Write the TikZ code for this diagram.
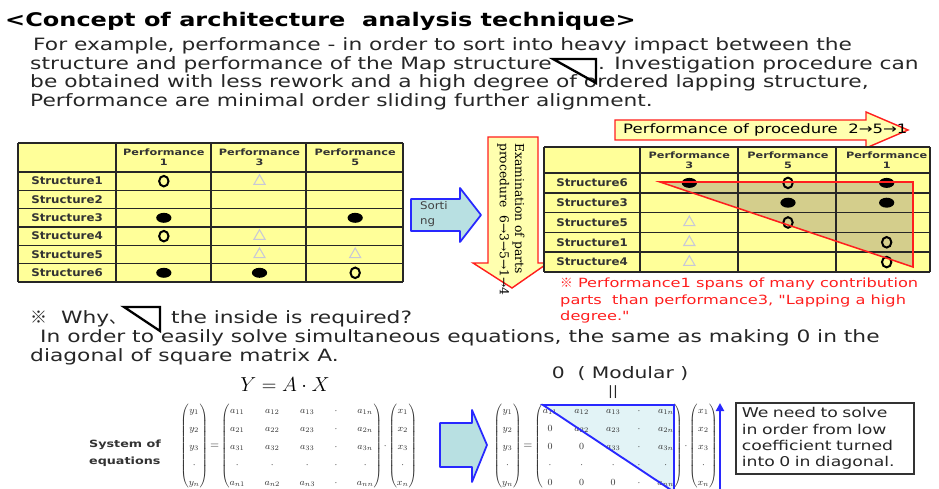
\documentclass[tikz,border=0pt]{standalone}
\usepackage{amsmath}
\usepackage{fontspec}
\setmainfont{DejaVu Sans}[FakeStretch=1.12]
\newfontfamily\widefont{DejaVu Sans}[FakeStretch=1.28]
\newfontfamily\serifjp{DejaVu Serif}
\newfontfamily\cjk{Noto Sans CJK JP}
\usetikzlibrary{shapes,arrows.meta,positioning}

\definecolor{tabyellow}{RGB}{255,255,153}
\definecolor{shadeolive}{RGB}{212,206,140}
\definecolor{sortcyan}{RGB}{184,224,226}
\definecolor{arrblue}{RGB}{40,40,255}
\definecolor{notered}{RGB}{255,30,30}
\definecolor{palecyan}{RGB}{226,243,246}
\definecolor{trigrey}{RGB}{200,200,215}
\definecolor{procyellow}{RGB}{255,255,175}

\begin{document}
\begin{tikzpicture}[x=0.03cm, y=-0.03cm,
    txt/.style={anchor=base west, inner sep=0pt, font=\widefont\fontsize{14.5}{17}\selectfont, text=black!85},
    grid/.style={draw=black!85, line width=1.3pt},
    rowlab/.style={font=\fontsize{9}{10}\selectfont\bfseries, text=black!80, inner sep=0pt},
    collab/.style={font=\widefont\fontsize{7.5}{8.5}\selectfont\bfseries, align=center, text=black!80, inner sep=0pt},
    osym/.style={ellipse, draw=black, line width=1.7pt, minimum width=8pt, minimum height=9pt, inner sep=0pt},
    fsym/.style={ellipse, fill=black, minimum width=13pt, minimum height=8.5pt, inner sep=0pt},
    tsym/.style={regular polygon, regular polygon sides=3, draw=trigrey, line width=0.9pt, minimum size=11pt, inner sep=0pt},
    blockarrow/.style={draw=arrblue, fill=sortcyan, line width=1.5pt, line join=round},
    redarrow/.style={draw=notered, fill=procyellow, line width=1.2pt},
    mat/.style={inner sep=0pt, text=black!80, font=\fontsize{8}{9}\selectfont\renewcommand{\arraystretch}{1.71}},
    icon/.style={draw=black, line width=2pt}
]
\useasboundingbox (0,0) rectangle (939,489);

% Title and intro
\node[txt, font=\widefont\fontsize{16}{18}\selectfont\bfseries, text=black] (title) at (5,27) {<Concept of architecture\ \ analysis technique>};
\node[txt] (intro1) at (33,51) {For example, performance - in order to sort into heavy impact between the};
\node[txt] (intro2a) at (30,69.5) {structure and performance of the Map structure};
\node[txt] (intro2b) at (598,69.5) {. Investigation procedure can};
\node[txt] (intro3) at (30,88) {be obtained with less rework and a high degree of ordered lapping structure,};
\node[txt] (intro4) at (30,106.5) {Performance are minimal order sliding further alignment.};
\draw[icon] (553,59) -- (596,59) -- (596,83) -- cycle;

% Left table
\fill[tabyellow] (18,143) rectangle (403,282);
\foreach \x in {18,116,211,306,403} \draw[grid] (\x,143) -- (\x,282);
\foreach \y in {143,172,190.3,208.7,227,245.3,263.7,282} \draw[grid] (18,\y) -- (403,\y);
\foreach \n [count=\k] in {1,3,5}
    \node[collab] (lhead\k) at ({116+95.67*(\k-0.5)},157.5) {Performance\\\n};
\foreach \s [count=\k] in {1,...,6}
    \node[rowlab] (lrow\k) at (67,{172+18.33*(\k-0.5)}) {Structure\s};
\foreach \cl/\rw [count=\k] in {1/1,1/4,3/6}
    \node[osym] (lo\k) at ({116+95.67*(\cl-0.5)},{172+18.33*(\rw-0.5)}) {};
\foreach \cl/\rw [count=\k] in {1/3,3/3,1/6,2/6}
    \node[fsym] (lf\k) at ({116+95.67*(\cl-0.5)},{172+18.33*(\rw-0.5)}) {};
\foreach \cl/\rw [count=\k] in {2/1,2/4,2/5,3/5}
    \node[tsym] (lt\k) at ({116+95.67*(\cl-0.5)},{172+18.33*(\rw-0.5)}) {};

% Sorting arrow
\draw[blockarrow] (411,199) -- (460,199) -- (460,188) -- (481,215) -- (460,242) -- (460,231) -- (411,231) -- cycle;
\node[font=\fontsize{9}{12.5}\selectfont, align=left, anchor=west, text=black!75] (sorting) at (416,214) {Sorti\\ng};

% Examination arrow
\draw[redarrow] (488,137) -- (538,137) -- (538,263) -- (548,263) -- (512,288) -- (473,263) -- (488,263) -- cycle;
\node[rotate=-90, anchor=west, align=left, inner sep=0pt, font=\serifjp\fontsize{10.5}{13}\selectfont] (examine) at (511,143) {Examination of parts\\procedure\ \ 6→3→5→1→4};

% Procedure arrow
\draw[redarrow] (615,120) -- (866,120) -- (866,112) -- (908,130) -- (866,148) -- (866,140) -- (615,140) -- cycle;
\node[anchor=west, inner sep=0pt, font=\widefont\fontsize{11}{12}\selectfont] (procorder) at (623,130) {Performance of procedure\ \ 2→5→1};

% Right table
\fill[tabyellow] (544,147) rectangle (930,272);
\fill[shadeolive] (660,182) -- (913,182) -- (913,267) -- cycle;
\foreach \x in {544,640,738,836,930} \draw[grid] (\x,147) -- (\x,272);
\foreach \y in {147,173,192.8,212.6,232.4,252.2,272} \draw[grid] (544,\y) -- (930,\y);
\foreach \n [count=\k] in {3,5,1}
    \node[collab] (rhead\k) at ({640+98.67*(\k-0.5)},160) {Performance\\\n};
\foreach \s [count=\k] in {6,3,5,1,4}
    \node[rowlab] (rrow\k) at (592,{173+19.8*(\k-0.5)}) {Structure\s};
\foreach \cl/\rw [count=\k] in {1/1,3/1,2/2,3/2}
    \node[fsym] (rf\k) at ({640+98.67*(\cl-0.5)},{173+19.8*(\rw-0.5)}) {};
\foreach \cl/\rw [count=\k] in {2/1,2/3,3/4,3/5}
    \node[osym] (ro\k) at ({640+98.67*(\cl-0.5)},{173+19.8*(\rw-0.5)}) {};
\foreach \cl/\rw [count=\k] in {1/3,1/4,1/5}
    \node[tsym] (rt\k) at ({640+98.67*(\cl-0.5)},{173+19.8*(\rw-0.5)}) {};
\draw[notered, line width=1.3pt] (660,182) -- (913,182) -- (913,267) -- cycle;

% Red remark
\node[anchor=north west, align=left, inner sep=0pt, text=notered, font=\widefont\fontsize{10.8}{14}\selectfont] (remark) at (560,278) {{\cjk ※} Performance1 spans of many contribution\\parts\ \ than performance3, "Lapping a high\\degree."};

% Why section
\node[txt] (why) at (30,324) {{\cjk ※}\ \ Why{\cjk 、}};
\draw[icon] (124,307) -- (160,307) -- (160,331) -- cycle;
\node[txt] (whyrest) at (171,324) {the inside is required?};
\node[txt] (solve1) at (40,343) {In order to easily solve simultaneous equations, the same as making 0 in the};
\node[txt] (solve2) at (30,362) {diagonal of square matrix A.};

% Equations
\node[inner sep=0pt, font=\fontsize{19}{22}\selectfont] (yax) at (285,385) {$Y = A\cdot X$};
\node[anchor=west, align=left, text=black!80, font=\widefont\fontsize{8.5}{14.5}\selectfont\bfseries] (syseq) at (85,453) {System of\\equations};
\node[mat] (amatl) at (301.5,446) {$\setlength{\arraycolsep}{8.3pt}\begin{pmatrix}
    a_{11} & a_{12} & a_{13} & \cdot & a_{1n}\\
    a_{21} & a_{22} & a_{23} & \cdot & a_{2n}\\
    a_{31} & a_{32} & a_{33} & \cdot & a_{3n}\\
    \cdot & \cdot & \cdot & \cdot & \cdot\\
    a_{n1} & a_{n2} & a_{n3} & \cdot & a_{nn}\end{pmatrix}$};
\node[mat, font=\fontsize{10}{11}\selectfont, left=1pt of amatl] (eql) {$=$};
\node[mat, left=1pt of eql] (yvecl) {$\begin{pmatrix} y_1\\ y_2\\ y_3\\ \cdot\\ y_n\end{pmatrix}$};
\node[mat, right=1pt of amatl] (dotl) {$\cdot$};
\node[mat, right=1pt of dotl] (xvecl) {$\begin{pmatrix} x_1\\ x_2\\ x_3\\ \cdot\\ x_n\end{pmatrix}$};

\draw[blockarrow] (440,423) -- (472,423) -- (472,410) -- (487,445) -- (472,482) -- (472,467) -- (440,467) -- cycle;

\fill[palecyan] (543,405) -- (674,405) -- (674,492) -- cycle;
\node[mat] (amatr) at (608.5,446) {$\setlength{\arraycolsep}{7.3pt}\begin{pmatrix}
    a_{11} & a_{12} & a_{13} & \cdot & a_{1n}\\
    0 & a_{22} & a_{23} & \cdot & a_{2n}\\
    0 & 0 & a_{33} & \cdot & a_{3n}\\
    \cdot & \cdot & \cdot & \cdot & \cdot\\
    0 & 0 & 0 & \cdot & a_{nn}\end{pmatrix}$};
\node[mat, font=\fontsize{10}{11}\selectfont, left=1pt of amatr] (eqr) {$=$};
\node[mat, left=1pt of eqr] (yvecr) {$\begin{pmatrix} y_1\\ y_2\\ y_3\\ \cdot\\ y_n\end{pmatrix}$};
\node[mat, right=1pt of amatr] (dotr) {$\cdot$};
\node[mat, right=1pt of dotr] (xvecr) {$\begin{pmatrix} x_1\\ x_2\\ x_3\\ \cdot\\ x_n\end{pmatrix}$};
\draw[arrblue, line width=1.6pt] (543,405) -- (674,405) -- (674,492) -- cycle;

\coordinate (upfoot) at (720,489);
\coordinate (uphead) at (720,403);
\draw[arrblue, line width=2.2pt, -{Triangle[length=7pt,width=7pt]}] (upfoot) -- (uphead);

\node[inner sep=0pt, text=black!85, font=\widefont\fontsize{13.5}{15}\selectfont] (modular) at (620,374) {0\ \ ( Modular )};
\node[inner sep=0pt, text=black!85, font=\fontsize{11}{12}\selectfont] (modbar) at (613,392) {||};

% Note box
\node[draw=black!80, line width=1.4pt, text width=142pt, align=left, inner xsep=5pt, inner ysep=4pt, text=black!85, font=\widefont\fontsize{11.5}{14}\selectfont] (solvebox) at (825,438.5) {We need to solve\\in order from low\\coefficient turned\\into 0 in diagonal.};
\end{tikzpicture}
\end{document}
